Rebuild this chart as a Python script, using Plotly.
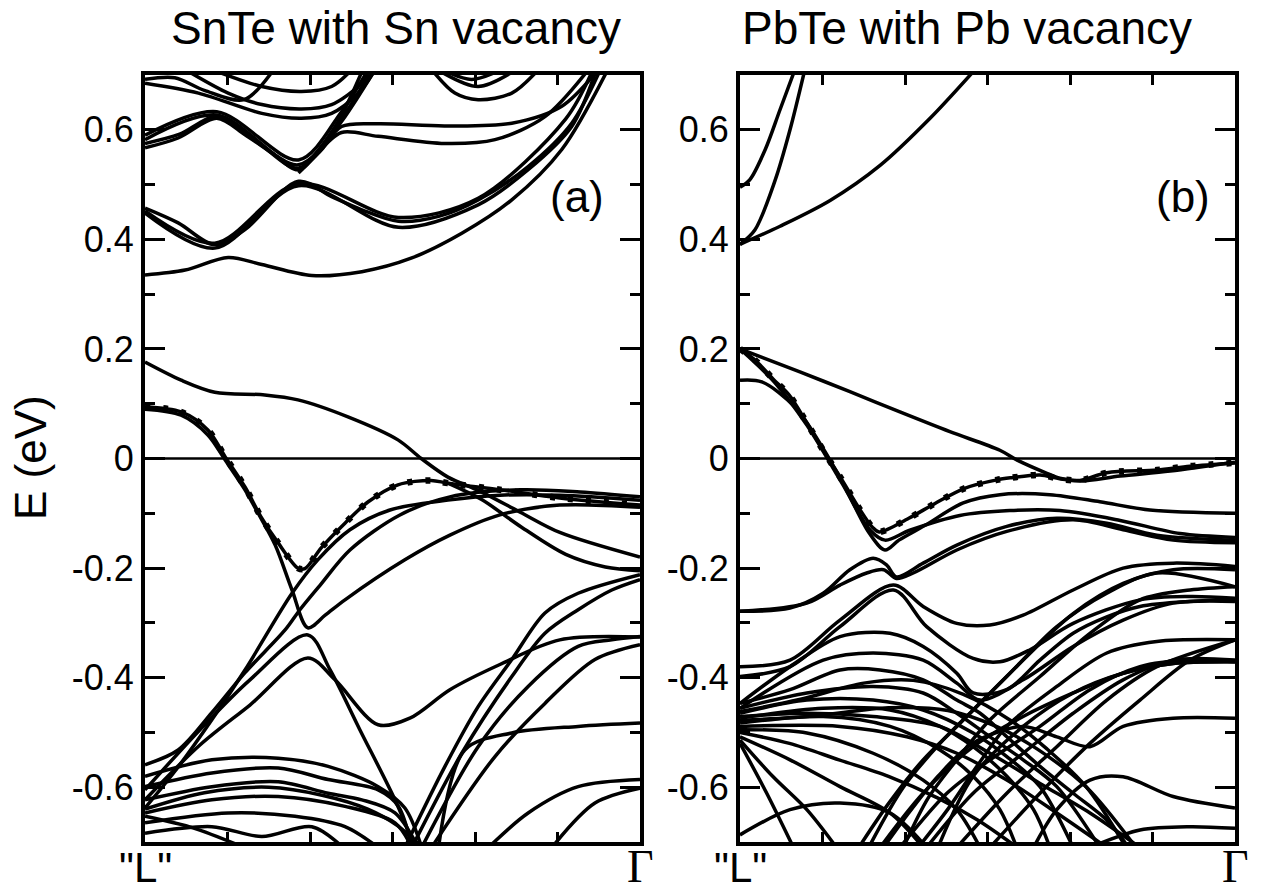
import plotly.graph_objects as go

# ---------------- data: k along "L"-Gamma (0..1), E in eV ----------------
# Panel (a): SnTe with Sn vacancy
A_CB1 = ([0, 0.081, 0.168, 0.236, 0.337, 0.438, 0.539, 0.640, 0.741, 0.842, 0.935],
         [0.335, 0.344, 0.367, 0.354, 0.334, 0.341, 0.366, 0.411, 0.472, 0.564, 0.71])
A_CB2 = ([0, 0.067, 0.141, 0.202, 0.310, 0.377, 0.438, 0.512, 0.593, 0.673, 0.774, 0.862, 0.92],
         [0.457, 0.430, 0.390, 0.418, 0.506, 0.478, 0.454, 0.433, 0.442, 0.472, 0.533, 0.612, 0.71])
A_CB3 = ([0, 0.141, 0.310, 0.512, 0.673, 0.774, 0.862, 0.912],
         [0.448, 0.384, 0.498, 0.422, 0.463, 0.527, 0.606, 0.71])
A_CB4 = ([0, 0.141, 0.310, 0.512, 0.673, 0.85, 0.905],
         [0.452, 0.393, 0.502, 0.440, 0.475, 0.62, 0.71])
A_CB5 = ([0, 0.067, 0.145, 0.202, 0.256, 0.310, 0.357, 0.404, 0.465],
         [0.567, 0.585, 0.621, 0.591, 0.558, 0.527, 0.570, 0.624, 0.71])
A_CB6 = ([0, 0.145, 0.310, 0.404, 0.458], [0.582, 0.627, 0.536, 0.630, 0.71])
A_CB7 = ([0, 0.145, 0.310, 0.397, 0.451], [0.590, 0.633, 0.545, 0.633, 0.71])
A_CB8 = ([0.310, 0.357, 0.397, 0.471, 0.606, 0.741, 0.842, 0.916],
         [0.521, 0.564, 0.606, 0.611, 0.607, 0.612, 0.643, 0.71])
A_CB9 = ([0.350, 0.397, 0.471, 0.606, 0.707, 0.808, 0.896],
         [0.558, 0.595, 0.588, 0.575, 0.582, 0.624, 0.71])
A_CB10 = ([0.579, 0.626, 0.673, 0.741, 0.795], [0.71, 0.667, 0.655, 0.667, 0.71])
A_CB11 = ([0.590, 0.673, 0.750], [0.71, 0.679, 0.71])
A_CB12 = ([0.60, 0.66, 0.72], [0.71, 0.692, 0.71])
A_CB13 = ([0, 0.108, 0.236, 0.316, 0.377, 0.431, 0.465],
          [0.685, 0.667, 0.630, 0.621, 0.630, 0.667, 0.71])
A_CB14 = ([0.081, 0.168, 0.236, 0.316, 0.377, 0.438, 0.458],
          [0.71, 0.667, 0.646, 0.638, 0.646, 0.685, 0.71])
A_CB15 = ([0.135, 0.236, 0.316, 0.377, 0.418], [0.71, 0.679, 0.670, 0.679, 0.71])
A_CB16 = ([0, 0.06, 0.12, 0.2, 0.26], [0.692, 0.695, 0.672, 0.655, 0.71])
A_CB17 = ([0, 0.07, 0.145, 0.23, 0.31, 0.38, 0.44], [0.575, 0.592, 0.624, 0.575, 0.530, 0.60, 0.71])

A_V1 = ([0, 0.073, 0.141, 0.242, 0.309, 0.410, 0.511, 0.558, 0.612, 0.677, 0.758, 0.838, 1.0],
        [0.176, 0.143, 0.121, 0.116, 0.107, 0.076, 0.034, 0, -0.034, -0.060, -0.098, -0.135, -0.180])
A_DASH = ([0, 0.073, 0.127, 0.162, 0.202, 0.234, 0.269, 0.309, 0.323, 0.356, 0.404, 0.451,
           0.511, 0.578, 0.612, 0.717, 0.838, 1.0],
          [0.094, 0.085, 0.052, 0.003, -0.052, -0.106, -0.154, -0.200, -0.201, -0.163, -0.118,
           -0.079, -0.048, -0.040, -0.045, -0.057, -0.072, -0.085])
A_V2 = ([0, 0.073, 0.127, 0.162, 0.202, 0.228, 0.263, 0.297, 0.329, 0.364, 0.404, 0.525,
         0.616, 0.717, 0.838, 1.0],
        [0.090, 0.079, 0.043, -0.003, -0.057, -0.099, -0.158, -0.240, -0.309, -0.286, -0.258,
         -0.185, -0.140, -0.103, -0.085, -0.089])
A_V3 = ([0, 0.067, 0.135, 0.202, 0.297, 0.349, 0.414, 0.495, 0.612, 0.717, 0.838, 1.0],
        [-0.638, -0.563, -0.477, -0.386, -0.246, -0.185, -0.130, -0.094, -0.076, -0.067, -0.067, -0.076])
A_V4 = ([0, 0.067, 0.135, 0.202, 0.283, 0.313, 0.354, 0.414, 0.515, 0.616, 0.758, 0.879, 1.0],
        [-0.559, -0.532, -0.464, -0.391, -0.313, -0.276, -0.231, -0.167, -0.103, -0.070, -0.057,
         -0.061, -0.070])
A_V5 = ([0, 0.111, 0.212, 0.329, 0.374, 0.434, 0.505, 0.545],
        [-0.605, -0.495, -0.404, -0.322, -0.386, -0.495, -0.623, -0.71])
A_V6 = ([0, 0.111, 0.212, 0.329, 0.384, 0.471, 0.535, 0.616, 0.717, 0.838, 1.0],
        [-0.623, -0.523, -0.450, -0.364, -0.404, -0.486, -0.474, -0.422, -0.376, -0.331, -0.326])
A_V7 = ([0, 0.135, 0.269, 0.370, 0.471, 0.525, 0.559],
        [-0.580, -0.550, -0.547, -0.562, -0.599, -0.638, -0.71])
A_V8 = ([0, 0.135, 0.269, 0.370, 0.471, 0.512, 0.539],
        [-0.599, -0.574, -0.565, -0.586, -0.605, -0.635, -0.71])
A_V9 = ([0, 0.135, 0.269, 0.370, 0.438, 0.505, 0.552],
        [-0.623, -0.599, -0.590, -0.611, -0.623, -0.647, -0.71])
A_V10 = ([0, 0.135, 0.269, 0.404, 0.505, 0.539], [-0.647, -0.623, -0.617, -0.635, -0.665, -0.71])
A_V11 = ([0, 0.168, 0.303, 0.404, 0.471], [-0.665, -0.647, -0.653, -0.672, -0.71])
A_V12 = ([0, 0.135, 0.236, 0.337, 0.40], [-0.684, -0.672, -0.690, -0.672, -0.71])
A_V13 = ([0, 0.1, 0.2], [-0.653, -0.675, -0.71])
A_V14 = ([0.525, 0.606, 0.673, 0.741, 0.808, 0.875, 1.0],
         [-0.71, -0.562, -0.453, -0.367, -0.282, -0.246, -0.212])
A_V15 = ([0.539, 0.640, 0.741, 0.808, 0.875, 0.943, 1.0],
         [-0.71, -0.538, -0.398, -0.319, -0.276, -0.240, -0.221])
A_V16 = ([0.559, 0.673, 0.774, 0.875, 0.943, 1.0], [-0.71, -0.526, -0.416, -0.343, -0.331, -0.325])
A_V17 = ([0.579, 0.707, 0.808, 0.909, 1.0], [-0.71, -0.544, -0.447, -0.367, -0.340])
A_V18 = ([0.593, 0.646, 0.741, 0.875, 1.0], [-0.71, -0.532, -0.501, -0.489, -0.483])
A_V19 = ([0.694, 0.774, 0.875, 1.0], [-0.71, -0.647, -0.599, -0.586])
A_V20 = ([0.822, 0.909, 1.0], [-0.71, -0.629, -0.602])
A_V21 = ([0.612, 0.68, 0.76, 0.85, 0.93, 1.0], [-0.045, -0.075, -0.125, -0.175, -0.198, -0.205])
A_V22 = ([0, 0.12, 0.25, 0.36, 0.45, 0.51, 0.56], [-0.64, -0.61, -0.60, -0.615, -0.64, -0.67, -0.71])

# Panel (b): PbTe with Pb vacancy
B_CB1 = ([0, 0.020, 0.051, 0.081, 0.111], [0.495, 0.509, 0.564, 0.637, 0.71])
B_CB2 = ([0, 0.030, 0.071, 0.101, 0.131], [0.391, 0.417, 0.508, 0.600, 0.71])
B_CB3 = ([0, 0.081, 0.182, 0.283, 0.384, 0.475], [0.391, 0.424, 0.471, 0.535, 0.621, 0.71])

B_DASH = ([0, 0.030, 0.069, 0.099, 0.135, 0.170, 0.206, 0.240, 0.267, 0.281, 0.341, 0.394,
           0.455, 0.519, 0.549, 0.606, 0.646, 0.687, 0.741, 0.842, 0.909, 1.0],
          [0.200, 0.180, 0.143, 0.116, 0.065, 0.012, -0.039, -0.090, -0.125, -0.134, -0.109,
           -0.082, -0.054, -0.039, -0.035, -0.030, -0.037, -0.040, -0.026, -0.021, -0.014, -0.008])
B_V1 = ([0, 0.121, 0.222, 0.323, 0.424, 0.525, 0.560, 0.620, 0.646, 0.687, 0.768, 0.869, 1.0],
        [0.2, 0.158, 0.122, 0.085, 0.049, 0.015, -0.003, -0.027, -0.036, -0.041, -0.032, -0.023, -0.007])
B_V2 = ([0, 0.044, 0.111, 0.166, 0.212, 0.261, 0.293, 0.321, 0.374, 0.451, 0.525, 0.626, 0.727, 0.828, 1.0],
        [0.143, 0.140, 0.094, 0.021, -0.052, -0.136, -0.167, -0.149, -0.122, -0.081, -0.066,
         -0.066, -0.079, -0.094, -0.100])
B_V3 = ([0, 0.069, 0.135, 0.206, 0.263, 0.293, 0.343, 0.444, 0.545, 0.646, 0.768, 0.889, 1.0],
        [0.2, 0.140, 0.061, -0.045, -0.131, -0.149, -0.131, -0.104, -0.095, -0.095, -0.113, -0.137, -0.144])
B_V4 = ([0, 0.101, 0.168, 0.222, 0.269, 0.296, 0.316, 0.370, 0.438, 0.539, 0.640, 0.741, 0.842, 1.0],
        [-0.279, -0.273, -0.246, -0.203, -0.182, -0.194, -0.216, -0.191, -0.158, -0.124, -0.109,
         -0.118, -0.140, -0.149])
B_V5 = ([0, 0.135, 0.202, 0.256, 0.290, 0.316, 0.350, 0.438, 0.539, 0.673, 0.774, 0.875, 1.0],
        [-0.279, -0.264, -0.231, -0.209, -0.203, -0.219, -0.209, -0.167, -0.133, -0.112, -0.130,
         -0.149, -0.154])
B_V6 = ([0, 0.101, 0.202, 0.310, 0.370, 0.438, 0.505, 0.572, 0.673, 0.774, 0.875, 1.0],
        [-0.380, -0.368, -0.295, -0.231, -0.270, -0.301, -0.304, -0.286, -0.240, -0.200, -0.191, -0.197])
B_V7 = ([0, 0.101, 0.202, 0.310, 0.377, 0.471, 0.525, 0.586, 0.673, 0.808, 0.909, 1.0],
        [-0.398, -0.380, -0.307, -0.240, -0.307, -0.365, -0.371, -0.349, -0.301, -0.258, -0.252, -0.255])
B_V8 = ([0, 0.101, 0.202, 0.303, 0.370, 0.438, 0.471, 0.539, 0.606, 0.673, 0.741, 0.808, 0.909, 1.0],
        [-0.447, -0.380, -0.325, -0.319, -0.343, -0.392, -0.428, -0.422, -0.368, -0.319, -0.289,
         -0.270, -0.261, -0.258])
B_V9 = ([0, 0.168, 0.269, 0.370, 0.438, 0.485, 0.572, 0.673, 0.774, 0.875, 1.0],
        [-0.456, -0.368, -0.355, -0.368, -0.410, -0.441, -0.404, -0.343, -0.295, -0.264, -0.261])
B_V10 = ([0.26, 0.33, 0.404, 0.471, 0.572, 0.673, 0.774, 0.875, 1.0],
         [-0.71, -0.60, -0.520, -0.459, -0.368, -0.283, -0.228, -0.203, -0.203])
B_V11 = ([0.24, 0.30, 0.370, 0.438, 0.539, 0.640, 0.741, 0.842, 1.0],
         [-0.71, -0.63, -0.550, -0.489, -0.398, -0.307, -0.246, -0.209, -0.234])
B_V12 = ([0.33, 0.38, 0.438, 0.505, 0.606, 0.707, 0.808, 0.909, 1.0],
         [-0.71, -0.62, -0.550, -0.477, -0.398, -0.319, -0.258, -0.240, -0.234])
B_V13 = ([0.36, 0.42, 0.48, 0.539, 0.640, 0.741, 0.842, 1.0],
         [-0.71, -0.64, -0.56, -0.489, -0.416, -0.355, -0.334, -0.331])
B_V14 = ([0.40, 0.471, 0.572, 0.673, 0.774, 0.875, 1.0],
         [-0.71, -0.580, -0.489, -0.428, -0.392, -0.374, -0.371])
B_V15 = ([0, 0.101, 0.202, 0.283, 0.370, 0.438, 0.485, 0.539, 0.606, 0.673, 0.741, 0.785],
         [-0.447, -0.422, -0.386, -0.386, -0.404, -0.441, -0.465, -0.508, -0.562, -0.611, -0.660, -0.71])
B_V16 = ([0, 0.135, 0.269, 0.370, 0.438, 0.505, 0.572, 0.640, 0.727],
         [-0.456, -0.428, -0.416, -0.428, -0.465, -0.508, -0.550, -0.599, -0.71])
B_V17 = ([0, 0.135, 0.269, 0.370, 0.471, 0.539, 0.606, 0.673],
         [-0.465, -0.441, -0.441, -0.459, -0.501, -0.544, -0.599, -0.71])
B_V18 = ([0, 0.168, 0.303, 0.404, 0.471, 0.539, 0.593, 0.626],
         [-0.474, -0.456, -0.459, -0.489, -0.526, -0.580, -0.641, -0.71])
B_V19 = ([0, 0.168, 0.303, 0.404, 0.471, 0.525, 0.559],
         [-0.483, -0.471, -0.489, -0.532, -0.580, -0.641, -0.71])
B_V20 = ([0, 0.135, 0.269, 0.370, 0.438, 0.485], [-0.495, -0.501, -0.538, -0.587, -0.641, -0.71])
B_V21 = ([0, 0.101, 0.202, 0.303, 0.370], [-0.508, -0.550, -0.599, -0.647, -0.71])
B_V22 = ([0, 0.067, 0.135, 0.195], [-0.514, -0.581, -0.641, -0.71])
B_V23 = ([0, 0.054, 0.108], [-0.520, -0.611, -0.71])
B_V24 = ([0, 0.101, 0.202, 0.303, 0.377], [-0.687, -0.641, -0.629, -0.647, -0.71])
B_V25 = ([0, 0.135, 0.269, 0.404, 0.505, 0.606, 0.707, 0.808],
         [-0.471, -0.465, -0.471, -0.489, -0.538, -0.593, -0.647, -0.71])
B_V26 = ([0, 0.202, 0.337, 0.438, 0.539, 0.640, 0.741],
         [-0.489, -0.489, -0.508, -0.538, -0.587, -0.647, -0.71])
B_V27 = ([0.283, 0.370, 0.471, 0.572, 0.673, 0.774, 0.875, 1.0],
         [-0.71, -0.611, -0.526, -0.471, -0.428, -0.392, -0.374, -0.371])
B_V28 = ([0.323, 0.418, 0.505, 0.606, 0.707, 0.808, 0.909, 1.0],
         [-0.71, -0.611, -0.550, -0.489, -0.422, -0.380, -0.368, -0.371])
B_V29 = ([0.377, 0.471, 0.572, 0.673, 0.774, 0.875, 1.0],
         [-0.71, -0.611, -0.538, -0.465, -0.404, -0.368, -0.368])
B_V30 = ([0.438, 0.539, 0.640, 0.741, 0.842, 1.0], [-0.71, -0.611, -0.526, -0.441, -0.380, -0.331])
B_V31 = ([0.505, 0.606, 0.707, 0.808, 0.909, 1.0], [-0.71, -0.611, -0.520, -0.441, -0.368, -0.331])
B_V32 = ([0.593, 0.640, 0.707, 0.774, 0.875, 1.0], [-0.71, -0.641, -0.587, -0.581, -0.617, -0.638])
B_V33 = ([0.707, 0.808, 0.909, 1.0], [-0.71, -0.678, -0.672, -0.675])
B_V34 = ([0.29, 0.33, 0.40, 0.47, 0.572, 0.640, 0.707, 0.774, 0.875, 1.0],
         [-0.71, -0.66, -0.58, -0.52, -0.489, -0.508, -0.526, -0.489, -0.474, -0.474])
B_V35 = ([0, 0.12, 0.25, 0.35, 0.45, 0.55, 0.62, 0.70, 0.78],
         [-0.462, -0.44, -0.41, -0.405, -0.43, -0.48, -0.53, -0.60, -0.71])
B_V36 = ([0, 0.15, 0.30, 0.42, 0.52, 0.60, 0.70, 0.80],
         [-0.478, -0.47, -0.455, -0.46, -0.49, -0.53, -0.60, -0.71])
B_V37 = ([0, 0.10, 0.20, 0.30, 0.40, 0.48, 0.56],
         [-0.500, -0.52, -0.55, -0.58, -0.62, -0.66, -0.71])

PANEL_A = [A_CB1, A_CB2, A_CB3, A_CB4, A_CB5, A_CB6, A_CB7, A_CB8, A_CB9, A_CB10, A_CB11,
           A_CB12, A_CB13, A_CB14, A_CB15, A_CB16, A_CB17, A_V1, A_V2, A_V3, A_V4, A_V5, A_V6,
           A_V7, A_V8, A_V9, A_V10, A_V11, A_V12, A_V13, A_V14, A_V15, A_V16, A_V17, A_V18,
           A_V19, A_V20, A_V21, A_V22, A_DASH]
PANEL_B = [B_CB1, B_CB2, B_CB3, B_V1, B_V2, B_V3, B_V4, B_V5, B_V6, B_V7, B_V8, B_V9, B_V10,
           B_V11, B_V12, B_V13, B_V14, B_V15, B_V16, B_V17, B_V18, B_V19, B_V20, B_V21, B_V22,
           B_V23, B_V24, B_V25, B_V26, B_V27, B_V28, B_V29, B_V30, B_V31, B_V32, B_V33, B_V34,
           B_V35, B_V36, B_V37, B_DASH]

TITLES = ["SnTe with Sn vacancy", "PbTe with Pb vacancy"]
PANEL_LABELS = ["(a)", "(b)"]
Y_TICKS = [-0.6, -0.4, -0.2, 0, 0.2, 0.4, 0.6]
Y_TICKTEXT = ["-0.6", "-0.4", "-0.2", "0", "0.2", "0.4", "0.6"]
K_TICKS = [0, 1 / 6, 2 / 6, 3 / 6, 4 / 6, 5 / 6, 1]
K_LABELS = ['"L"', "Γ"]

W, H = 1262, 891
FONT = "Liberation Sans, Arial, sans-serif"

fig = go.Figure()

for panel, (xa, ya), dashed in [(PANEL_A, ("x", "y"), A_DASH), (PANEL_B, ("x2", "y2"), B_DASH)]:
    for band in panel:
        fig.add_trace(go.Scatter(x=band[0], y=band[1], mode="lines", xaxis=xa, yaxis=ya,
                                 line=dict(color="black", width=3.5, shape="spline", smoothing=0.9),
                                 hoverinfo="skip", showlegend=False))
    fig.add_trace(go.Scatter(x=dashed[0], y=dashed[1], mode="lines", xaxis=xa, yaxis=ya,
                             line=dict(color="black", width=6.5, shape="spline", smoothing=0.9,
                                       dash="5px,13px"),
                             hoverinfo="skip", showlegend=False))
    fig.add_trace(go.Scatter(x=[0, 1], y=[0, 0], mode="lines", xaxis=xa, yaxis=ya,
                             line=dict(color="black", width=2.5),
                             hoverinfo="skip", showlegend=False))

xdoms = [[145 / W, 640 / W], [740 / W, 1235 / W]]
ydom = [1 - 842 / H, 1 - 75 / H]

axis_common = dict(showline=True, linecolor="black", linewidth=4, mirror="ticks",
                   showgrid=False, zeroline=False, ticks="inside", tickcolor="black")

layout = dict(width=W, height=H, margin=dict(l=0, r=0, t=0, b=0),
              paper_bgcolor="white", plot_bgcolor="white", showlegend=False)
for i, suffix in enumerate(["", "2"]):
    layout["xaxis" + suffix] = dict(axis_common, domain=xdoms[i], range=[0, 1],
                                    anchor="y" + suffix, tickvals=K_TICKS, ticklen=10,
                                    tickwidth=3, showticklabels=False)
    layout["yaxis" + suffix] = dict(axis_common, domain=ydom, range=[-0.7, 0.7],
                                    anchor="x" + suffix, tickvals=Y_TICKS, ticktext=Y_TICKTEXT,
                                    ticklen=20, tickwidth=3,
                                    tickfont=dict(family=FONT, size=36, color="black"),
                                    minor=dict(dtick=0.1, tick0=0, ticks="inside", ticklen=10,
                                               tickwidth=3, tickcolor="black"))
fig.update_layout(**layout)

title_x = [396 / W, 967 / W]
label_x = [577 / W, 1183 / W]
for i in range(2):
    fig.add_annotation(text=TITLES[i], xref="paper", yref="paper", x=title_x[i], y=1 - 28 / H,
                       xanchor="center", yanchor="middle", showarrow=False,
                       font=dict(family=FONT, size=46, color="black"))
    fig.add_annotation(text=PANEL_LABELS[i], xref="paper", yref="paper", x=label_x[i],
                       y=1 - 196 / H, xanchor="center", yanchor="middle", showarrow=False,
                       font=dict(family=FONT, size=44, color="black"))
    fig.add_annotation(text=K_LABELS[0], xref="paper", yref="paper", x=xdoms[i][0],
                       y=1 - 867 / H, xanchor="center", yanchor="middle", showarrow=False,
                       font=dict(family=FONT, size=42, color="black"))
    fig.add_annotation(text=K_LABELS[1], xref="paper", yref="paper", x=xdoms[i][1],
                       y=1 - 866 / H, xanchor="center", yanchor="middle", showarrow=False,
                       font=dict(family="Liberation Serif, Times New Roman, serif", size=46,
                                 color="black"))

fig.add_annotation(text="E (eV)", xref="paper", yref="paper", x=30 / W, y=1 - 458 / H,
                   xanchor="center", yanchor="middle", textangle=-90, showarrow=False,
                   font=dict(family=FONT, size=44, color="black"))

fig.write_html("out.html")
